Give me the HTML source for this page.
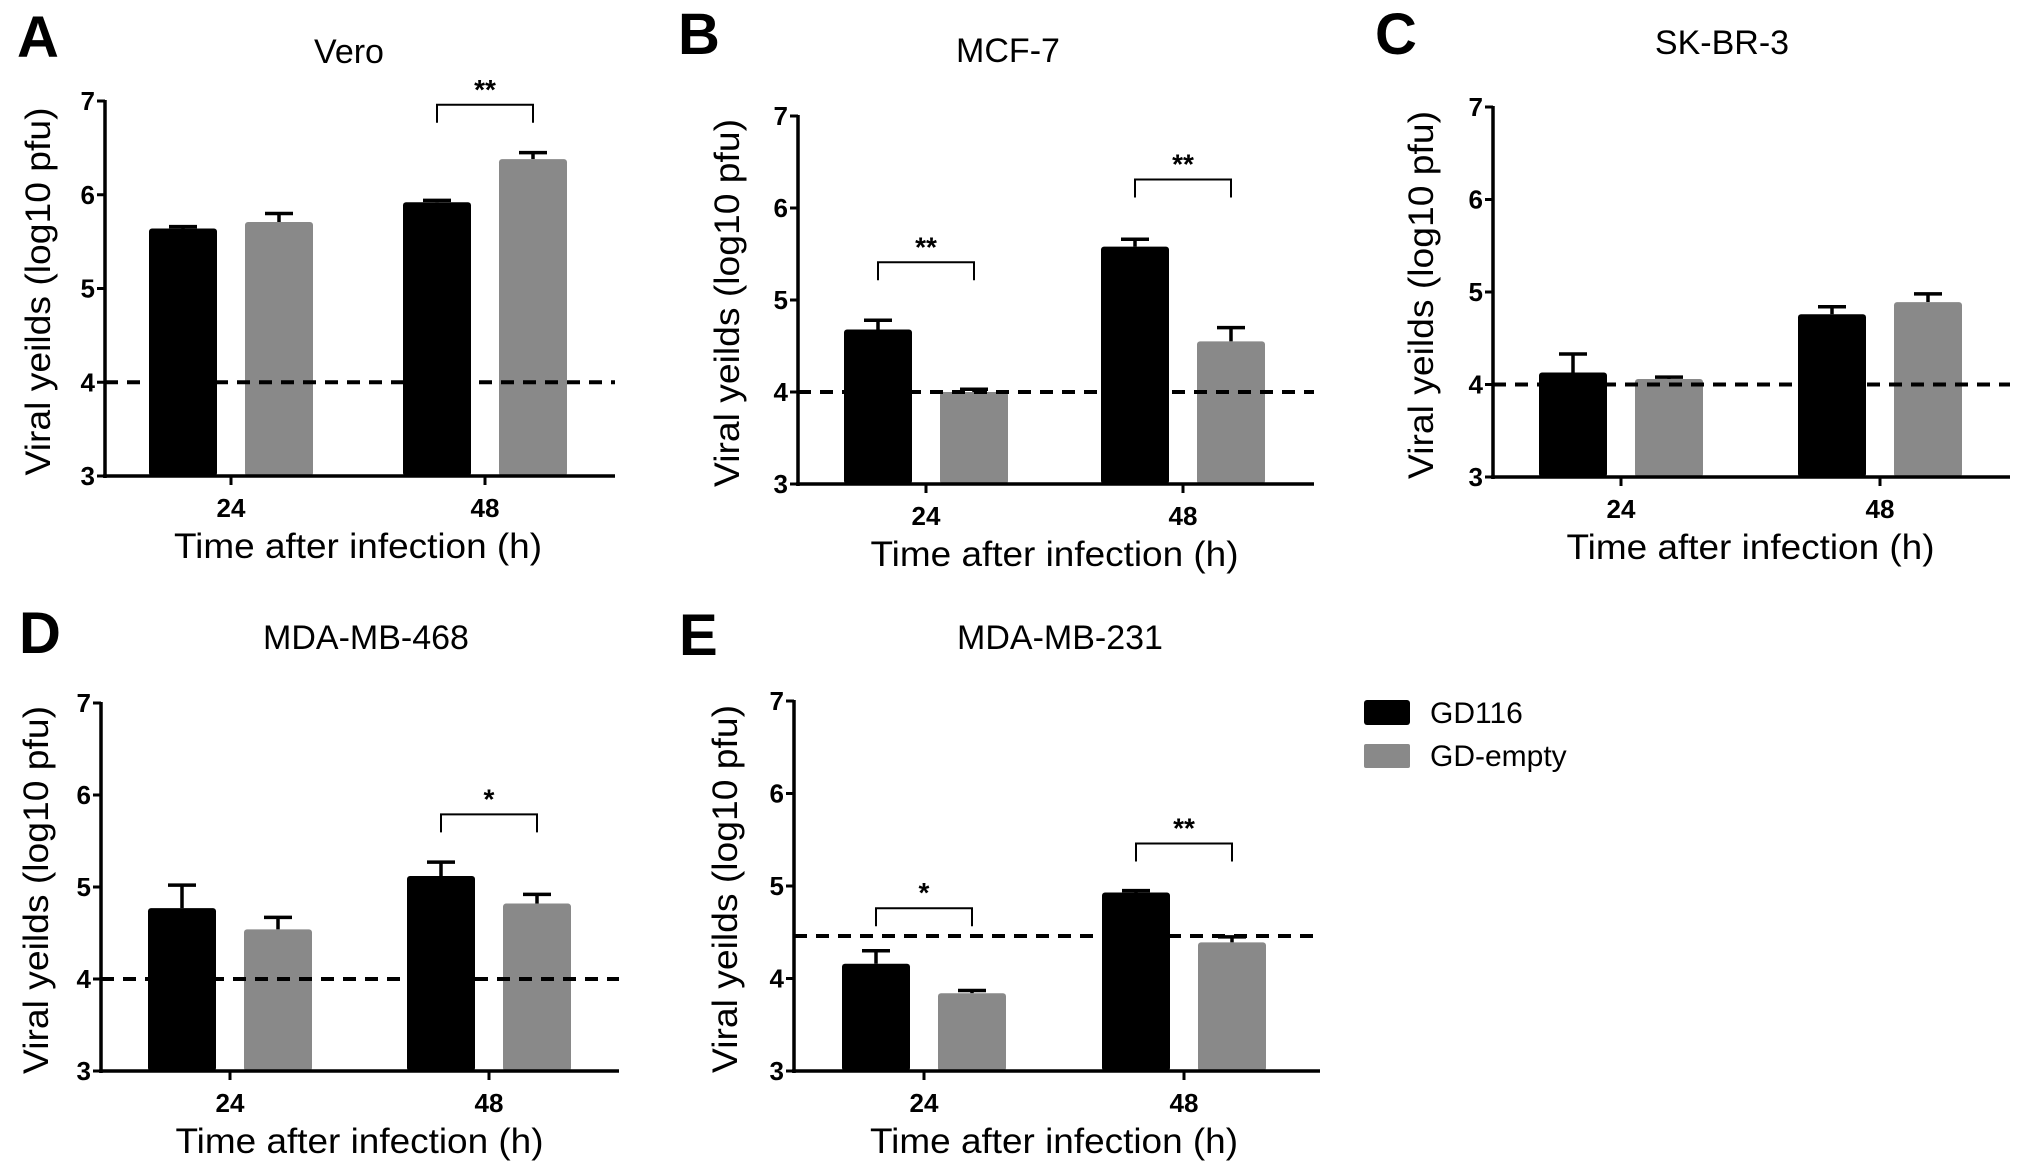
<!DOCTYPE html>
<html><head><meta charset="utf-8"><style>
html,body{margin:0;padding:0;background:#fff;}
svg{display:block;font-family:"Liberation Sans",Arial,sans-serif;}
</style></head><body>
<svg id="fig" width="2031" height="1175" viewBox="0 0 2031 1175">
  <g>
    <rect x="1364" y="700" width="46" height="25" rx="3" fill="#000"/>
    <text x="1430" y="723" font-size="30">GD116</text>
    <rect x="1364" y="744" width="46" height="24" rx="2" fill="#898989"/>
    <text x="1430" y="766" font-size="30">GD-empty</text>
  </g>
</svg>
<script>
// Shared data
const categories = ["24", "48"];
const yTicks = [3, 4, 5, 6, 7];
const seriesNames = ["GD116", "GD-empty"];

// Panel A – Vero
const veroGD116 = [5.64, 5.92];
const veroGD116Err = [5.66, 5.94];
const veroEmpty = [5.71, 6.38];
const veroEmptyErr = [5.80, 6.45];
const veroSig = ["", "**"];
const veroSigLevel = [0, 6.96];
const veroBaseline = 4;

// Panel B – MCF-7
const mcfGD116 = [4.68, 5.58];
const mcfGD116Err = [4.78, 5.66];
const mcfEmpty = [4.00, 4.55];
const mcfEmptyErr = [4.03, 4.70];
const mcfSig = ["**", "**"];
const mcfSigLevel = [5.41, 6.31];
const mcfBaseline = 4;

// Panel C – SK-BR-3
const skGD116 = [4.13, 4.76];
const skGD116Err = [4.33, 4.84];
const skEmpty = [4.06, 4.89];
const skEmptyErr = [4.08, 4.98];
const skSig = ["", ""];
const skSigLevel = [0, 0];
const skBaseline = 4;

// Panel D – MDA-MB-468
const m468GD116 = [4.77, 5.12];
const m468GD116Err = [5.02, 5.27];
const m468Empty = [4.54, 4.82];
const m468EmptyErr = [4.67, 4.92];
const m468Sig = ["", "*"];
const m468SigLevel = [0, 5.79];
const m468Baseline = 4;

// Panel E – MDA-MB-231
const m231GD116 = [4.16, 4.93];
const m231GD116Err = [4.30, 4.95];
const m231Empty = [3.84, 4.39];
const m231EmptyErr = [3.87, 4.45];
const m231Sig = ["*", "**"];
const m231SigLevel = [4.76, 5.46];
const m231Baseline = 4.46;

const NS = "http://www.w3.org/2000/svg";
const svg = document.getElementById("fig");
function mk(tag, attrs, parent) {
  const e = document.createElementNS(NS, tag);
  for (const k in attrs) e.setAttribute(k, attrs[k]);
  (parent || svg).appendChild(e);
  return e;
}

const panels = [
  {id:"a", letter:"A", title:"Vero", lx:17, ly:57, tx:349, ty:63, ax:105, ay7:101, ay3:476, ax2:615, t1:231, t2:485, ytx:38,
   g:veroGD116, ge:veroGD116Err, e:veroEmpty, ee:veroEmptyErr, sig:veroSig, sl:veroSigLevel, base:veroBaseline},
  {id:"b", letter:"B", title:"MCF-7", lx:678, ly:54, tx:1008, ty:62, ax:798, ay7:116, ay3:484, ax2:1314, t1:926, t2:1183, ytx:727,
   g:mcfGD116, ge:mcfGD116Err, e:mcfEmpty, ee:mcfEmptyErr, sig:mcfSig, sl:mcfSigLevel, base:mcfBaseline},
  {id:"c", letter:"C", title:"SK-BR-3", lx:1375, ly:54, tx:1722, ty:54, ax:1493, ay7:107, ay3:477, ax2:2010, t1:1621, t2:1880, ytx:1421,
   g:skGD116, ge:skGD116Err, e:skEmpty, ee:skEmptyErr, sig:skSig, sl:skSigLevel, base:skBaseline},
  {id:"d", letter:"D", title:"MDA-MB-468", lx:19, ly:653, tx:366, ty:649, ax:101, ay7:703, ay3:1071, ax2:619, t1:230, t2:489, ytx:36,
   g:m468GD116, ge:m468GD116Err, e:m468Empty, ee:m468EmptyErr, sig:m468Sig, sl:m468SigLevel, base:m468Baseline},
  {id:"e", letter:"E", title:"MDA-MB-231", lx:679, ly:655, tx:1060, ty:649, ax:794, ay7:701, ay3:1071, ax2:1320, t1:924, t2:1184, ytx:725,
   g:m231GD116, ge:m231GD116Err, e:m231Empty, ee:m231EmptyErr, sig:m231Sig, sl:m231SigLevel, base:m231Baseline}
];

panels.forEach(p => {
  const G = mk("g", {});
  
  
  const y = v => p.ay3 + (v - 3) * (p.ay7 - p.ay3) / 4;
  const xs = [p.t1, p.t2];
  const off = 48, bw = 68;

  const L = mk("text", {x:p.lx, y:p.ly, "font-size":58, "font-weight":"bold"}, G);
  L.textContent = p.letter;
  
  
  const T = mk("text", {x:p.tx, y:p.ty, "font-size":34, "text-anchor":"middle"}, G);
  T.textContent = p.title;
  
  

  for (let i = 0; i < categories.length; i++) {
    const specs = [[p.g[i], p.ge[i], xs[i] - off, "#000", "gd116"], [p.e[i], p.ee[i], xs[i] + off, "#898989", "gd-empty"]];
    specs.forEach(s => {
      const top = y(s[0]);
      const eb = mk("path", {d:`M${s[2]} ${top} V${y(s[1])} M${s[2]-14} ${y(s[1])} H${s[2]+14}`, stroke:"#000", "stroke-width":3.5, fill:"none"}, G);
      
      
      const r = mk("rect", {x:s[2]-bw/2, y:top, width:bw, height:p.ay3-top, fill:s[3], rx:3}, G);
      
      
    });
    if (p.sig[i]) {
      const by = y(p.sl[i]);
      const x1 = xs[i] - off, x2 = xs[i] + off;
      const br = mk("path", {d:`M${x1} ${by+18} V${by} H${x2} V${by+18}`, stroke:"#000", "stroke-width":2, fill:"none"}, G);
      
      
      const st = mk("text", {x:xs[i], y:by - 6, "font-size":28, "font-weight":"bold", "text-anchor":"middle"}, G);
      st.textContent = p.sig[i];
      
      
    }
  }

  const dl = mk("line", {x1:p.ax, x2:p.ax2, y1:y(p.base), y2:y(p.base), stroke:"#000", "stroke-width":4, "stroke-dasharray":"13 9"}, G);
  
  

  const ya = mk("line", {x1:p.ax, x2:p.ax, y1:p.ay7-1, y2:p.ay3+2, stroke:"#000", "stroke-width":3.5}, G);
  
  
  const xa = mk("line", {x1:p.ax-2, x2:p.ax2, y1:p.ay3, y2:p.ay3, stroke:"#000", "stroke-width":3.5}, G);
  
  
  yTicks.forEach(v => {
    mk("line", {x1:p.ax-8, x2:p.ax, y1:y(v), y2:y(v), stroke:"#000", "stroke-width":3}, G);
    const t = mk("text", {x:p.ax-10, y:y(v)+9, "font-size":26, "font-weight":"bold", "text-anchor":"end"}, G);
    t.textContent = v;
    
    
  });
  categories.forEach((c, i) => {
    mk("line", {x1:xs[i], x2:xs[i], y1:p.ay3, y2:p.ay3+9, stroke:"#000", "stroke-width":3}, G);
    const t = mk("text", {x:xs[i], y:p.ay3+41, "font-size":26, "font-weight":"bold", "text-anchor":"middle"}, G);
    t.textContent = c;
    
    
  });
  const xt = mk("text", {x:(p.t1+p.t2)/2, y:p.ay3+82, "font-size":35, "text-anchor":"middle", textLength:368, lengthAdjust:"spacingAndGlyphs"}, G);
  xt.textContent = "Time after infection (h)";
  
  
  const cy = (p.ay7 + p.ay3) / 2 + 3;
  const yt = mk("text", {x:0, y:0, "font-size":35, "text-anchor":"middle", textLength:368, lengthAdjust:"spacingAndGlyphs",
    transform:`translate(${p.ytx + 12},${cy}) rotate(-90)`}, G);
  yt.textContent = "Viral yeilds (log10 pfu)";
  
  
});
</script>
</body></html>
